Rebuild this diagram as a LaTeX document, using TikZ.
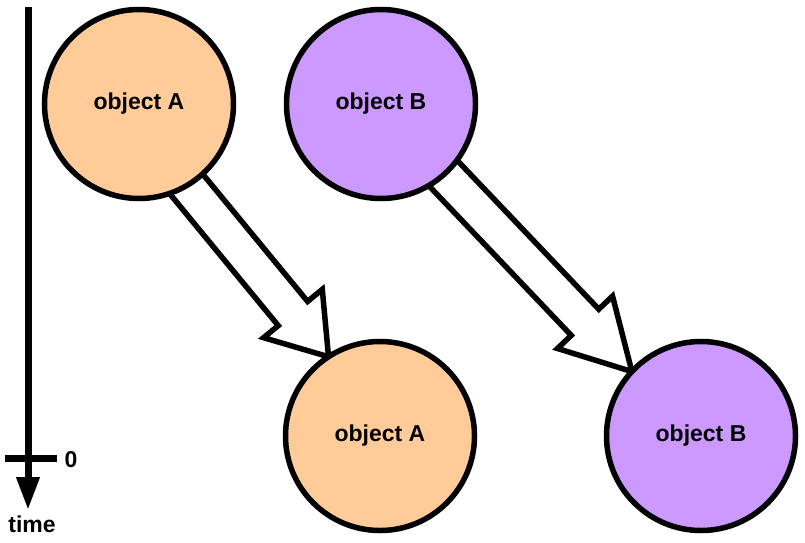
\documentclass[tikz,border=0pt]{standalone}
\usepackage{fontspec}
\setmainfont{Liberation Sans}
\usetikzlibrary{calc,backgrounds,arrows.meta}
\definecolor{peach}{HTML}{FFCC99}
\definecolor{lilac}{HTML}{CC99FF}
\tikzset{
  obj/.style={circle,draw=black,line width=5.5pt,minimum size=189pt,inner sep=0pt,
    font=\fontsize{23}{27}\selectfont\bfseries},
  objA/.style={obj,fill=peach},
  objB/.style={obj,fill=lilac},
  harrow/.style={draw=black,fill=white,line width=5.5pt,line join=miter},
  lbl/.style={font=\fontsize{23}{27}\selectfont\bfseries,inner sep=0pt},
  axisline/.style={line width=7pt}
}
\newcommand{\hollowarrow}[3]{%
  \path ($(#1)!-30pt!(#2)$) coordinate (hs) ($(#2)!#3!(#1)$) coordinate (hh);
  \draw[harrow] ($(hs)!19pt!90:(#2)$) -- ($(hh)!19pt!90:(#2)$) -- ($(hh)!38pt!90:(#2)$)
    -- (#2) -- ($(hh)!38pt!-90:(#2)$) -- ($(hh)!19pt!-90:(#2)$) -- ($(hs)!19pt!-90:(#2)$) -- cycle;
}
\begin{document}
\begin{tikzpicture}[x=1pt,y=-1pt]
\useasboundingbox (0,0) rectangle (805,542);
\node[objA] (A1) at (139,104) {object A};
\node[objB] (B1) at (381,104) {object B};
\node[objA] (A2) at (380,436) {object A};
\node[objB] (B2) at (701,436) {object B};
\begin{scope}[on background layer]
  \coordinate (sa) at (A1.-59);
  \coordinate (ta) at ($(A2.center)!94.5pt!(A2.123)$);
  \hollowarrow{sa}{ta}{56pt}
  \coordinate (sb) at (B1.-48);
  \coordinate (tb) at ($(B2.center)!94.5pt!(B2.137)$);
  \hollowarrow{sb}{tb}{68pt}
\end{scope}
% time axis
\coordinate (ax0) at (28,7);
\coordinate (ax1) at (28,510);
\draw[axisline,-{Triangle[length=33pt,width=22pt]}] (ax0) -- (ax1);
\coordinate (tk0) at (5,458);
\coordinate (tk1) at (57,458);
\draw[axisline] (tk0) -- (tk1);
\node[lbl] (zero) at (71,460) {0};
\node[lbl] (time) at (32,524) {time};
\end{tikzpicture}
\end{document}
